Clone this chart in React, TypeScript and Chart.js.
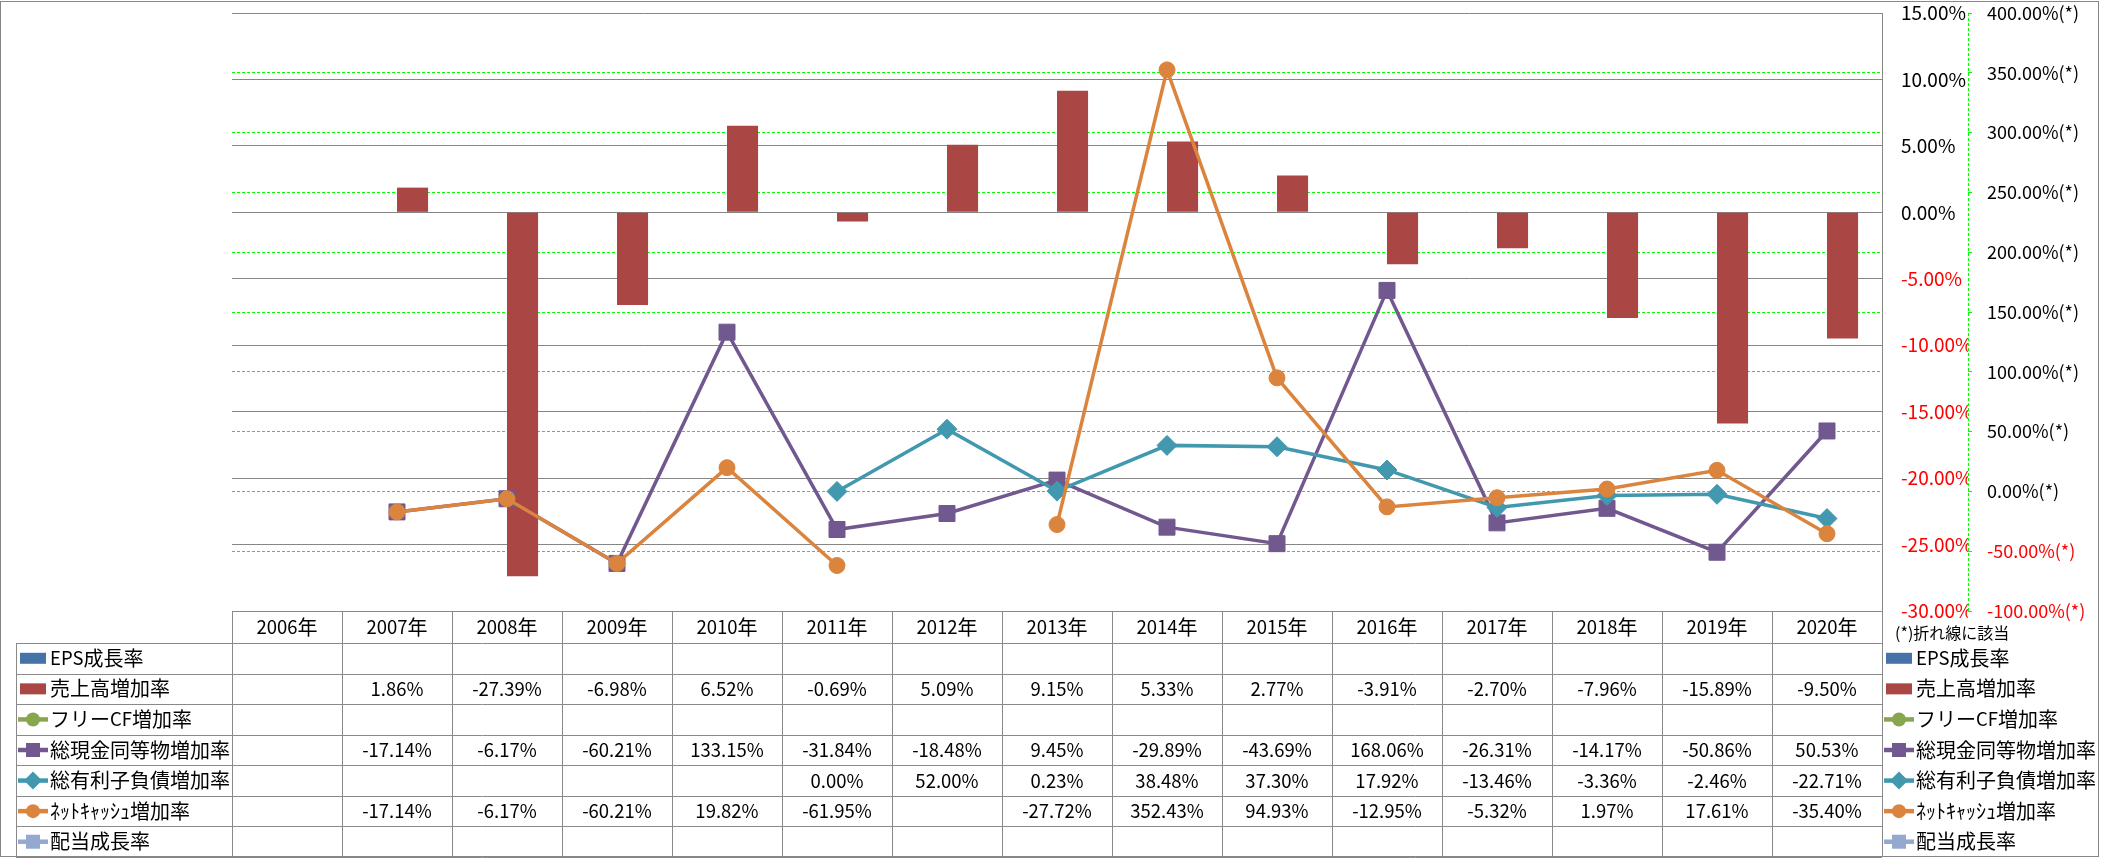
import React, { useEffect, useRef } from 'react';
import { Chart, registerables } from 'chart.js';

Chart.register(...registerables);

// ---------- data ----------
const years = ['2006年', '2007年', '2008年', '2009年', '2010年', '2011年', '2012年', '2013年', '2014年', '2015年', '2016年', '2017年', '2018年', '2019年', '2020年'];

const epsGrowth: (number | null)[] = [null, null, null, null, null, null, null, null, null, null, null, null, null, null, null];
const salesGrowth: (number | null)[] = [null, 1.86, -27.39, -6.98, 6.52, -0.69, 5.09, 9.15, 5.33, 2.77, -3.91, -2.70, -7.96, -15.89, -9.50];
const freeCfGrowth: (number | null)[] = [null, null, null, null, null, null, null, null, null, null, null, null, null, null, null];
const cashGrowth: (number | null)[] = [null, -17.14, -6.17, -60.21, 133.15, -31.84, -18.48, 9.45, -29.89, -43.69, 168.06, -26.31, -14.17, -50.86, 50.53];
const debtGrowth: (number | null)[] = [null, null, null, null, null, 0.00, 52.00, 0.23, 38.48, 37.30, 17.92, -13.46, -3.36, -2.46, -22.71];
const netCashGrowth: (number | null)[] = [null, -17.14, -6.17, -60.21, 19.82, -61.95, null, -27.72, 352.43, 94.93, -12.95, -5.32, 1.97, 17.61, -35.40];
const dividendGrowth: (number | null)[] = [null, null, null, null, null, null, null, null, null, null, null, null, null, null, null];

const seriesLabels = ['EPS成長率', '売上高増加率', 'フリーCF増加率', '総現金同等物増加率', '総有利子負債増加率', 'ﾈｯﾄｷｬｯｼｭ増加率', '配当成長率'];
const seriesData = [epsGrowth, salesGrowth, freeCfGrowth, cashGrowth, debtGrowth, netCashGrowth, dividendGrowth];
const seriesKinds = ['bar', 'bar', 'line', 'line', 'line', 'line', 'line'];
const seriesColors = ['#4572A7', '#AA4643', '#89A54E', '#71588F', '#4198AF', '#DB843D', '#93A9CF'];
const seriesMarkers = ['', '', 'circle', 'rect', 'rectRot', 'circle', 'rect'];

const barAxisMin = -30;
const barAxisMax = 15;
const barAxisStep = 5;
const lineAxisMin = -100;
const lineAxisMax = 400;
const lineAxisStep = 50;
const noteText = '(*)折れ線に該当';

// ---------- styles ----------
const FONT = "'Noto Sans CJK JP'";
const GRAY = '#868686';
const TABLE_GRAY = '#898989';
const GREEN = '#00FF00';
const RED = '#FF0000';

function drawMixed(ctx: CanvasRenderingContext2D, text: string, x: number, y: number, align: string, latin: number, cjk: number) {
  const runs: { t: string; wide: boolean }[] = [];
  for (const ch of text) {
    const wide = (ch.codePointAt(0) || 0) >= 0x2e80;
    const last = runs[runs.length - 1];
    if (last && last.wide === wide) last.t += ch;
    else runs.push({ t: ch, wide });
  }
  const fonts = runs.map((r) => `${r.wide ? cjk : latin}px ${FONT}`);
  const widths = runs.map((r, i) => {
    ctx.font = fonts[i];
    return ctx.measureText(r.t).width;
  });
  const total = widths.reduce((a, b) => a + b, 0);
  let cx = align === 'center' ? x - total / 2 : x;
  ctx.textAlign = 'left';
  ctx.textBaseline = 'middle';
  runs.forEach((r, i) => {
    ctx.font = fonts[i];
    ctx.fillText(r.t, cx, y);
    cx += widths[i];
  });
}

function drawMarker(ctx: CanvasRenderingContext2D, kind: string, x: number, y: number, color: string) {
  ctx.fillStyle = color;
  ctx.beginPath();
  if (kind === 'circle') {
    ctx.arc(x, y, 7, 0, Math.PI * 2);
  } else if (kind === 'rect') {
    ctx.rect(x - 7, y - 7, 14, 14);
  } else {
    ctx.moveTo(x - 9, y);
    ctx.lineTo(x, y - 9);
    ctx.lineTo(x + 9, y);
    ctx.lineTo(x, y + 9);
    ctx.closePath();
  }
  ctx.fill();
}

function drawKey(ctx: CanvasRenderingContext2D, i: number, x: number, cy: number) {
  const color = seriesColors[i];
  if (seriesKinds[i] === 'bar') {
    ctx.fillStyle = color;
    ctx.fillRect(x + 2, cy - 5.5, 26, 11);
  } else {
    ctx.strokeStyle = color;
    ctx.lineWidth = 4.5;
    ctx.setLineDash([]);
    ctx.beginPath();
    ctx.moveTo(x, cy);
    ctx.lineTo(x + 30, cy);
    ctx.stroke();
    drawMarker(ctx, seriesMarkers[i], x + 15, cy, color);
  }
}

const tablePlugin = {
  id: 'dataTable',
  afterDraw(chart: any) {
    const ctx: CanvasRenderingContext2D = chart.ctx;
    const area = chart.chartArea;
    const n = years.length;
    const colW = (area.right - area.left) / n;
    const headerTop = area.bottom;
    const headerBottom = 643;
    const tableBottom = 857;
    const rows = seriesLabels.length;
    const rowH = (tableBottom - headerBottom) / rows;
    const labelLeft = 16;
    const px = (v: number) => Math.round(v) + 0.5;

    ctx.save();
    // dashed axis line of the secondary axis
    const y2 = chart.scales.y2;
    ctx.strokeStyle = GREEN;
    ctx.lineWidth = 1;
    ctx.setLineDash([3, 2]);
    ctx.beginPath();
    ctx.moveTo(px(y2.left), area.top);
    ctx.lineTo(px(y2.left), area.bottom);
    ctx.stroke();
    ctx.setLineDash([]);

    // table grid
    ctx.strokeStyle = TABLE_GRAY;
    ctx.lineWidth = 1;
    ctx.beginPath();
    ctx.moveTo(area.left, px(headerTop));
    ctx.lineTo(area.right, px(headerTop));
    for (let r = 0; r <= rows; r++) {
      const y = px(headerBottom + r * rowH);
      ctx.moveTo(labelLeft, y);
      ctx.lineTo(area.right, y);
    }
    ctx.moveTo(px(labelLeft), headerBottom);
    ctx.lineTo(px(labelLeft), tableBottom);
    for (let k = 0; k <= n; k++) {
      const x = px(area.left + k * colW);
      ctx.moveTo(x, headerTop);
      ctx.lineTo(x, tableBottom);
    }
    ctx.stroke();

    // header
    ctx.fillStyle = '#000';
    const xs = chart.scales.x;
    years.forEach((yr, i) => {
      drawMixed(ctx, yr, xs.getPixelForValue(i), (headerTop + headerBottom) / 2, 'center', 18.5, 20);
    });

    // rows
    seriesLabels.forEach((label, r) => {
      const cy = headerBottom + r * rowH + rowH / 2;
      drawKey(ctx, r, 18, cy);
      ctx.fillStyle = '#000';
      drawMixed(ctx, label, 50, cy, 'left', 18.5, 20);
      drawKey(ctx, r, 1884, cy);
      ctx.fillStyle = '#000';
      drawMixed(ctx, label, 1916, cy, 'left', 18.5, 20);
      seriesData[r].forEach((v, i) => {
        if (v === null || v === undefined) return;
        ctx.fillStyle = '#000';
        drawMixed(ctx, v.toFixed(2) + '%', xs.getPixelForValue(i), cy, 'center', 18.5, 20);
      });
    });

    // note
    ctx.fillStyle = '#000';
    drawMixed(ctx, noteText, 1895, 633, 'left', 16, 16);

    // outer frame
    ctx.strokeStyle = GRAY;
    ctx.lineWidth = 1;
    ctx.strokeRect(0.5, 1.5, 2098, 855);
    ctx.restore();
  },
};

export default function App() {
  const ref = useRef<HTMLCanvasElement>(null);

  useEffect(() => {
    const canvas = ref.current;
    if (!canvas) return;
    const datasets: any[] = seriesLabels.map((label, i) => {
      if (seriesKinds[i] === 'bar') {
        return {
          type: 'bar',
          label,
          data: seriesData[i],
          yAxisID: 'y',
          backgroundColor: seriesColors[i],
          borderWidth: 0,
          categoryPercentage: 0.565,
          barPercentage: 1,
          order: 20,
        };
      }
      const m = seriesMarkers[i];
      return {
        type: 'line',
        label,
        data: seriesData[i],
        yAxisID: 'y2',
        borderColor: seriesColors[i],
        backgroundColor: seriesColors[i],
        borderWidth: 3.5,
        pointStyle: m,
        pointRadius: m === 'rect' ? 11.3 : m === 'rectRot' ? 10 : 8,
        pointBackgroundColor: seriesColors[i],
        pointBorderColor: seriesColors[i],
        pointBorderWidth: 1,
        spanGaps: false,
        tension: 0,
        fill: false,
        order: 10 - i,
      };
    });

    const chart = new Chart(canvas, {
      type: 'bar',
      data: { labels: years, datasets },
      options: {
        responsive: false,
        animation: false,
        devicePixelRatio: 1,
        layout: { padding: { left: 232, top: 13, right: 0, bottom: 247 } },
        plugins: { legend: { display: false }, tooltip: { enabled: false } },
        scales: {
          x: { type: 'category', display: false, offset: true, grid: { display: false } },
          y: {
            position: 'right',
            weight: 0,
            min: barAxisMin,
            max: barAxisMax,
            ticks: {
              stepSize: barAxisStep,
              autoSkip: false,
              padding: 19,
              color: (c: any) => (c.tick && c.tick.value < 0 ? RED : '#000'),
              font: { family: FONT, size: 19 },
              callback: (v: any) => Number(v).toFixed(2) + '%',
            },
            grid: { color: GRAY, lineWidth: 1, drawTicks: false },
            border: { display: true, color: GRAY, width: 1 },
            afterFit: (s: any) => {
              s.width = 86;
              s.paddingTop = 0;
              s.paddingBottom = 0;
            },
          },
          y2: {
            position: 'right',
            weight: 1,
            min: lineAxisMin,
            max: lineAxisMax,
            ticks: {
              stepSize: lineAxisStep,
              autoSkip: false,
              padding: 15,
              color: (c: any) => (c.tick && c.tick.value < 0 ? RED : '#000'),
              font: { family: FONT, size: 18 },
              callback: (v: any) => Number(v).toFixed(2) + '%(*)',
            },
            grid: {
              color: (c: any) => (c.tick && (c.tick.value === lineAxisMax || c.tick.value === lineAxisMin) ? 'rgba(0,0,0,0)' : GREEN),
              lineWidth: 1,
              drawTicks: true,
              tickLength: 4,
              tickColor: GREEN,
            },
            border: { display: false, dash: [3, 2] },
            afterFit: (s: any) => {
              s.width = 133;
              s.paddingTop = 0;
              s.paddingBottom = 0;
            },
          },
        },
      } as any,
      plugins: [tablePlugin],
    });
    return () => chart.destroy();
  }, []);

  return (
    <div style={{ position: 'fixed', left: 0, top: 0, width: 2101, height: 858, background: '#fff' }}>
      <canvas ref={ref} width={2101} height={858} style={{ display: 'block', width: 2101, height: 858 }} />
    </div>
  );
}
